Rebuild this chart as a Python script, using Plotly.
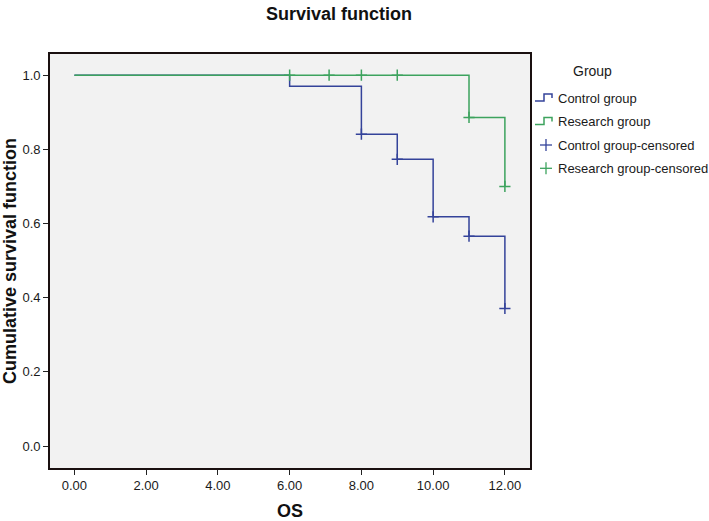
import plotly.graph_objects as go

# Kaplan-Meier step data
control_time = [0, 6, 8, 9, 10, 11, 12]
control_surv = [1.0, 0.970, 0.841, 0.773, 0.618, 0.566, 0.371]
research_time = [0, 11, 12]
research_surv = [1.0, 0.886, 0.700]

control_cens_time = [8, 9, 10, 11, 12]
control_cens_surv = [0.841, 0.773, 0.618, 0.566, 0.371]
research_cens_time = [6, 7.1, 8, 9, 11, 12]
research_cens_surv = [1.0, 1.0, 1.0, 1.0, 0.886, 0.700]

x_ticks = [0, 2, 4, 6, 8, 10, 12]
y_ticks = [0.0, 0.2, 0.4, 0.6, 0.8, 1.0]

legend_names = ["Control group", "Research group", "Control group-censored", "Research group-censored"]

BLUE = "#34439a"
GREEN = "#3da35e"
FONT = "Arial, Liberation Sans, sans-serif"

W, H = 709, 521
ML, MR, MT, MB = 50, 179, 54, 53
PW, PH = W - ML - MR, H - MT - MB


def px(x):
    return (x - ML) / PW


def py(y):
    return 1 - (y - MT) / PH


fig = go.Figure()
fig.add_trace(go.Scatter(x=control_time, y=control_surv, mode="lines", line_shape="hv",
                         line=dict(color=BLUE, width=1.5), name=legend_names[0]))
fig.add_trace(go.Scatter(x=research_time, y=research_surv, mode="lines", line_shape="hv",
                         line=dict(color=GREEN, width=1.5), name=legend_names[1]))
fig.add_trace(go.Scatter(x=control_cens_time, y=control_cens_surv, mode="markers",
                         marker=dict(symbol="cross-thin", size=8, line=dict(color=BLUE, width=1.5)),
                         name=legend_names[2]))
fig.add_trace(go.Scatter(x=research_cens_time, y=research_cens_surv, mode="markers",
                         marker=dict(symbol="cross-thin", size=8, line=dict(color=GREEN, width=1.5)),
                         name=legend_names[3]))

# hand-made legend (SPSS style step icons)
item_y = [98, 121.5, 145, 168.3]
colors = [BLUE, GREEN, BLUE, GREEN]
shapes = []
annotations = [dict(text="Group", xref="paper", yref="paper", x=px(592), y=py(71),
                    xanchor="center", yanchor="middle", showarrow=False,
                    font=dict(size=14, color="#1a1a1a"))]
for i, (name, yy, c) in enumerate(zip(legend_names, item_y, colors)):
    if i < 2:
        path = (f"M {px(535)} {py(yy + 3)} L {px(544)} {py(yy + 3)} L {px(544)} {py(yy - 4)} "
                f"L {px(552)} {py(yy - 4)} L {px(552)} {py(yy)}")
        shapes.append(dict(type="path", xref="paper", yref="paper", path=path,
                           line=dict(color=c, width=1.5)))
    else:
        shapes.append(dict(type="line", xref="paper", yref="paper", x0=px(540), x1=px(552),
                           y0=py(yy), y1=py(yy), line=dict(color=c, width=1.3)))
        shapes.append(dict(type="line", xref="paper", yref="paper", x0=px(546), x1=px(546),
                           y0=py(yy - 6), y1=py(yy + 6), line=dict(color=c, width=1.3)))
    annotations.append(dict(text=name, xref="paper", yref="paper", x=px(556), y=py(yy),
                            xanchor="left", yanchor="middle", showarrow=False,
                            font=dict(size=13, color="#1a1a1a")))

fig.update_layout(
    width=W, height=H,
    margin=dict(l=ML, r=MR, t=MT, b=MB, autoexpand=False),
    paper_bgcolor="white",
    plot_bgcolor="#f2f2f2",
    font=dict(family=FONT, size=13, color="#1a1a1a"),
    title=dict(text="<b>Survival function</b>", x=0.478, xanchor="center",
               y=1 - 14 / 521, yanchor="middle", font=dict(size=18, color="#111")),
    showlegend=False,
    shapes=shapes,
    annotations=annotations,
    xaxis=dict(range=[-0.68, 12.70], tickvals=x_ticks, tickformat=".2f",
               showgrid=False, zeroline=False, ticks="outside", ticklen=5, tickwidth=1.2,
               tickcolor="#222", showline=True, linecolor="#1a1010", linewidth=1.6, mirror=True,
               title=dict(text="<b>OS</b>", font=dict(size=18, color="#111"), standoff=24)),
    yaxis=dict(range=[-0.059, 1.057], tickvals=y_ticks, tickformat=".1f",
               showgrid=False, zeroline=False, ticks="outside", ticklen=5, tickwidth=1.2,
               tickcolor="#222", showline=True, linecolor="#1a1010", linewidth=1.6, mirror=True,
               title=dict(text="<b>Cumulative survival function</b>", font=dict(size=18, color="#111"),
                          standoff=4)),
)

fig.write_html("out.html")
